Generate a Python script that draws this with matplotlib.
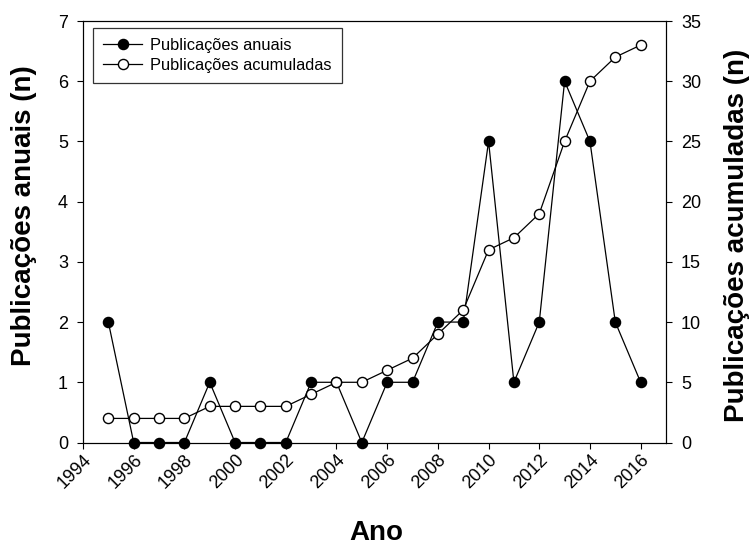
import matplotlib
matplotlib.use("Agg")
from matplotlib import pyplot as plt

plt.rcParams['font.family'] = ['Liberation Sans', 'DejaVu Sans']

anos = [1995, 1996, 1997, 1998, 1999, 2000, 2001, 2002, 2003, 2004, 2005,
        2006, 2007, 2008, 2009, 2010, 2011, 2012, 2013, 2014, 2015, 2016]
anuais = [2, 0, 0, 0, 1, 0, 0, 0, 1, 1, 0, 1, 1, 2, 2, 5, 1, 2, 6, 5, 2, 1]
acumuladas = [2, 2, 2, 2, 3, 3, 3, 3, 4, 5, 5, 6, 7, 9, 11, 16, 17, 19, 25, 30, 32, 33]
xticks = list(range(1994, 2017, 2))

W, H = 753, 546
fig = plt.figure(figsize=(W / 100, H / 100), dpi=100)
ax = fig.add_axes([83 / W, 1 - 442.5 / H, (666 - 83) / W, (442.5 - 21) / H])
ax2 = ax.twinx()

l1, = ax.plot(anos, anuais, '-o', color='black', mfc='black', mec='black',
              ms=7.3, lw=0.9, label='Publicações anuais', zorder=3, clip_on=False)
l2, = ax2.plot(anos, acumuladas, '-o', color='black', mfc='white', mec='black',
               ms=7.3, lw=0.9, label='Publicações acumuladas', zorder=3, clip_on=False)

ax.set_xlim(1994, 2017)
ax.set_ylim(0, 7)
ax2.set_ylim(0, 35)
ax.set_xticks(xticks)
ax.set_xticklabels([str(t) for t in xticks], rotation=45, ha='right', va='top',
                   rotation_mode='anchor', fontsize=13)
ax.set_yticks(range(0, 8))
ax.tick_params(axis='y', labelsize=13, direction='out', length=4.3, pad=6.5)
ax.tick_params(axis='x', direction='out', length=4.3, pad=2)
ax2.set_yticks(range(0, 36, 5))
ax2.tick_params(axis='y', labelsize=13, direction='out', length=4.3, pad=6.5)

# axis titles
fig.text(376 / W, 6 / H, 'Ano', fontsize=20, fontweight='bold',
         ha='center', va='baseline')
fig.text(24 / W, 1 - 216 / H, 'Publicações anuais (n)', fontsize=20,
         fontweight='bold', rotation=90, ha='center', va='center')
fig.text(737 / W, 1 - 235 / H, 'Publicações acumuladas (n)', fontsize=20,
         fontweight='bold', rotation=90, ha='center', va='center')

leg = ax.legend(handles=[l1, l2], loc='upper left', fontsize=11.8, frameon=True,
                fancybox=False, edgecolor='black', borderpad=0.6,
                handlelength=2.4, handletextpad=0.5, labelspacing=0.3,
                borderaxespad=0, bbox_to_anchor=(10 / 583, 1 - 7 / 421.5))
leg.get_frame().set_linewidth(0.9)

plt.savefig('out.png', dpi=100)
